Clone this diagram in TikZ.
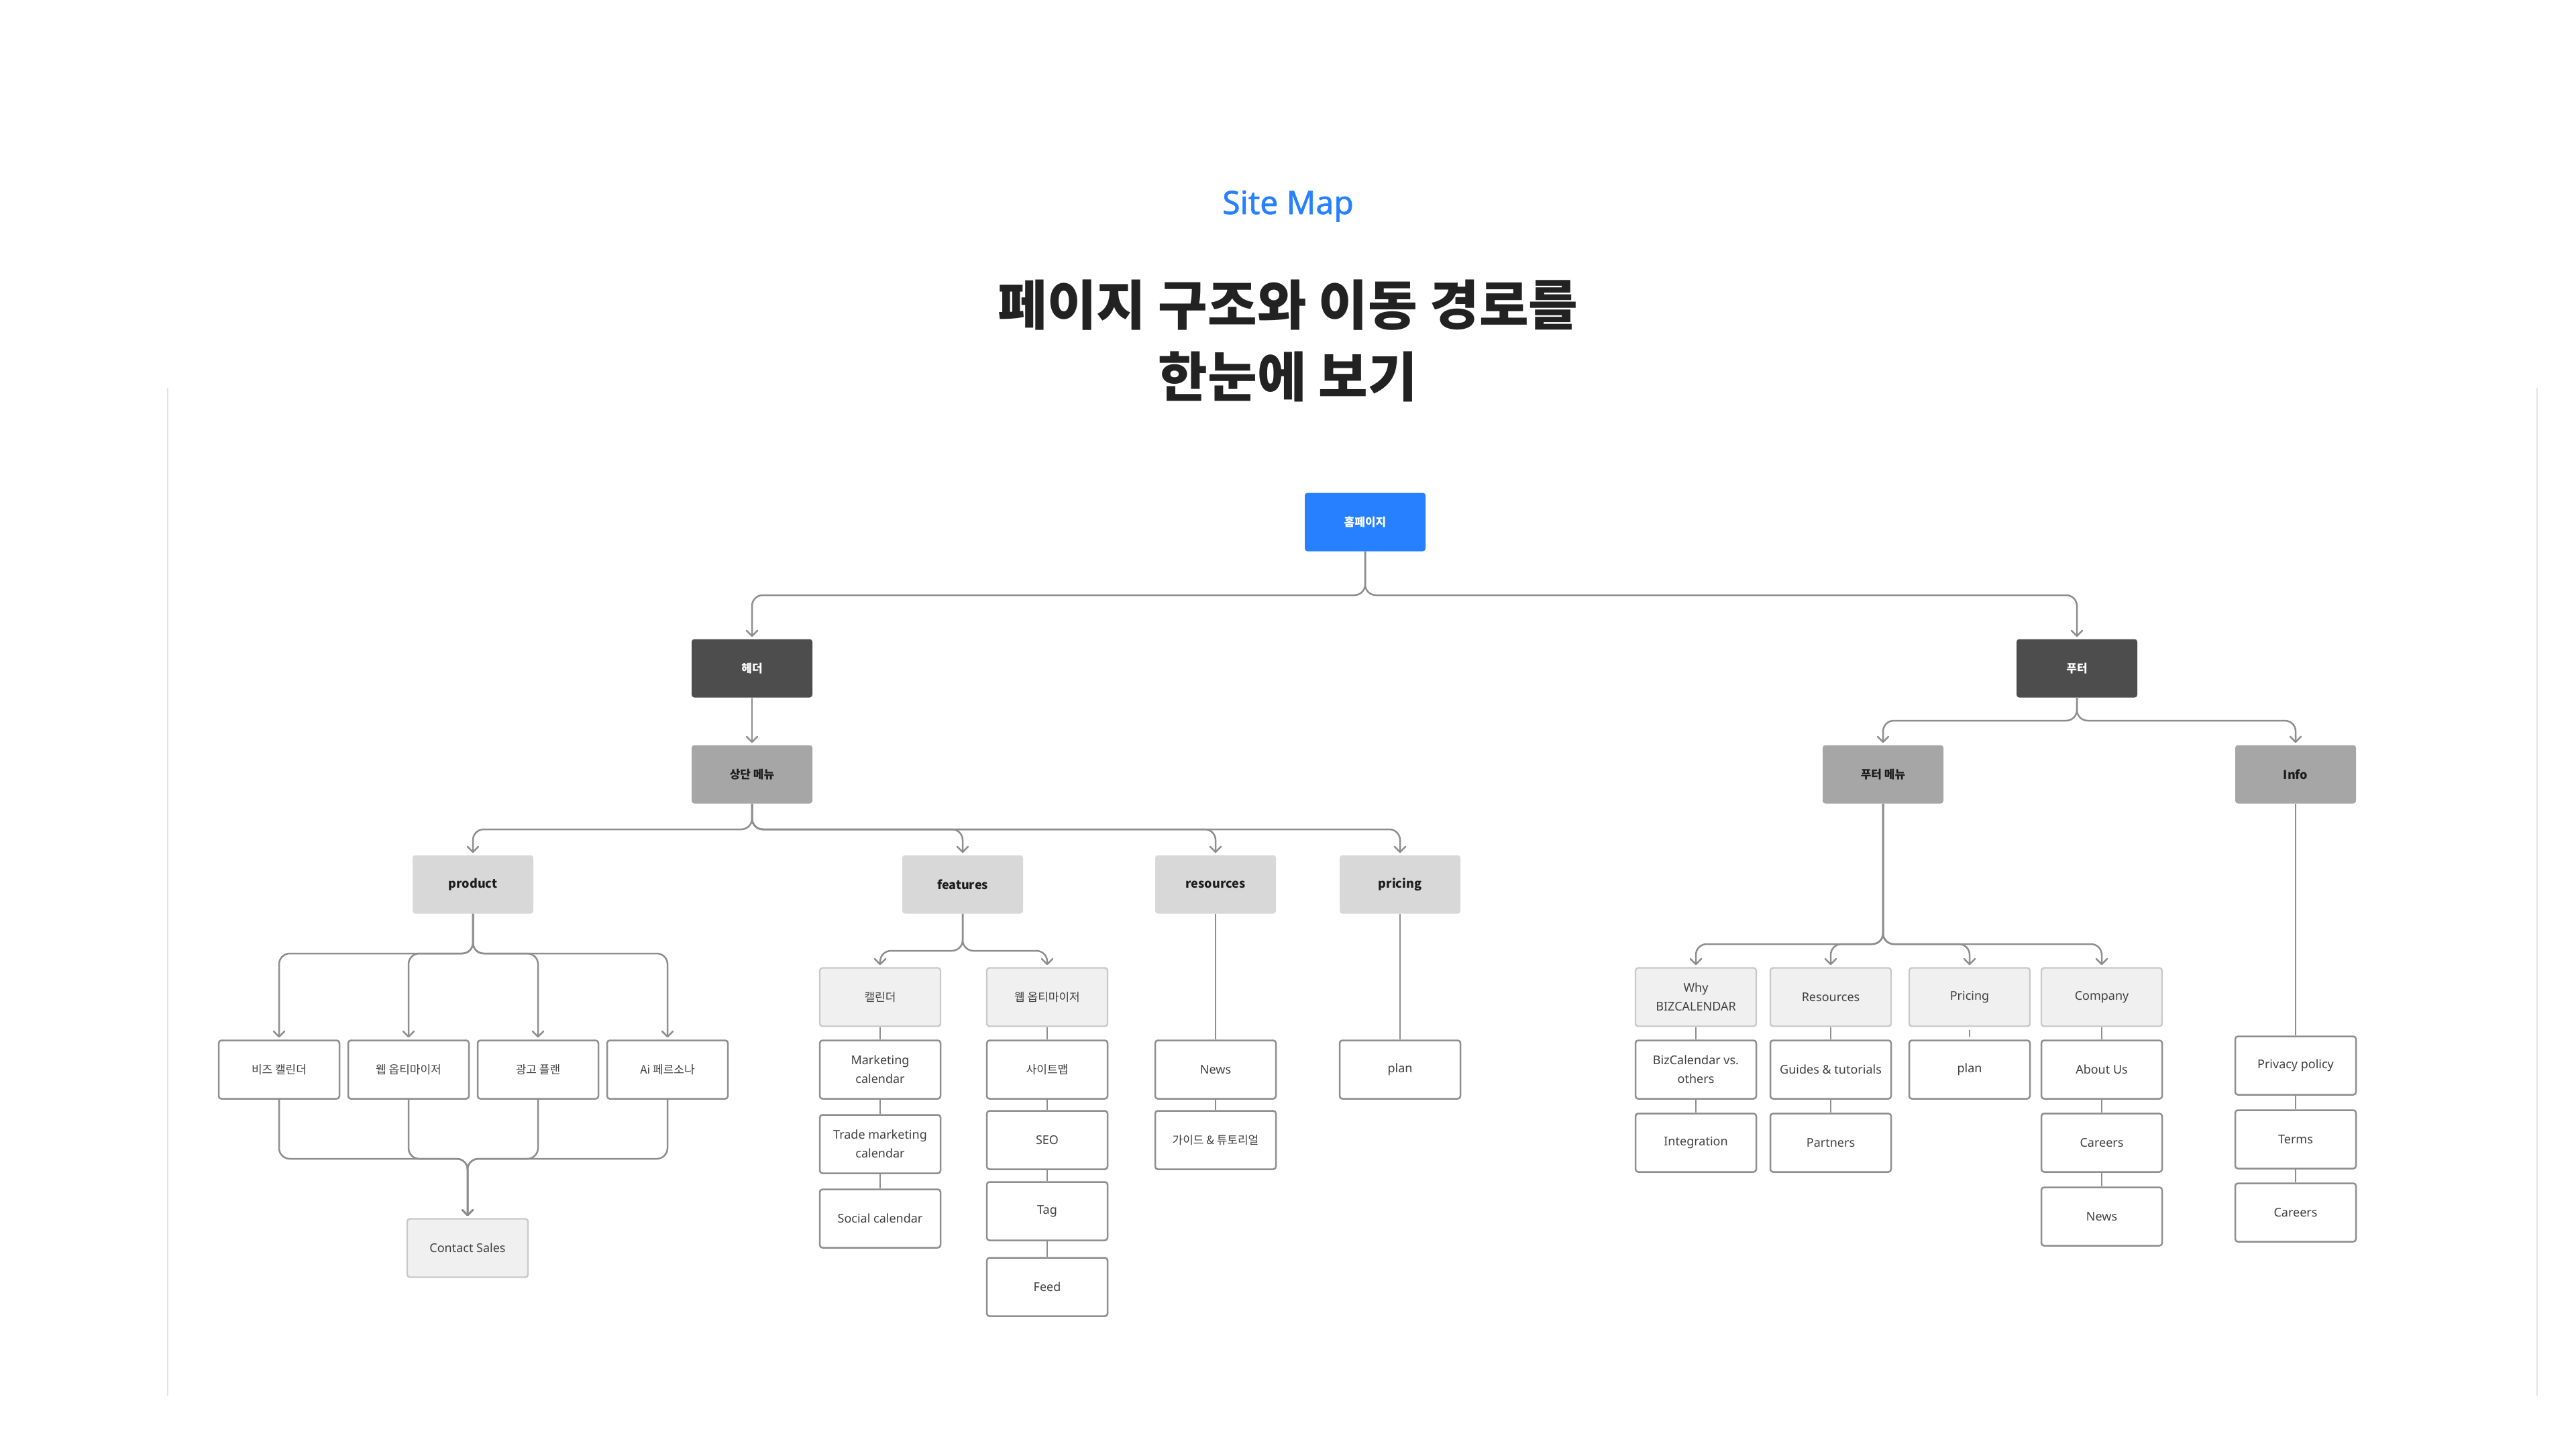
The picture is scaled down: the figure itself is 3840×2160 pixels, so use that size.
\documentclass[tikz,border=0pt]{standalone}
\usepackage{fontspec}
\setmainfont{Noto Sans}
\newfontfamily\kr{Noto Sans CJK KR}
\newfontfamily\sitefont[FakeBold=1.2]{Noto Sans}
\usetikzlibrary{arrows.meta}
\newcommand{\lblfont}{\fontsize{9}{14}\selectfont}
\newcommand{\krs}{\kr\fontsize{8.5}{14}\selectfont}
\definecolor{cBlue}{HTML}{2680FF}
\definecolor{cDark}{HTML}{4D4D4D}
\definecolor{cMid}{HTML}{A6A6A6}
\definecolor{cCat}{HTML}{D9D8D9}
\definecolor{cPale}{HTML}{F0F0F0}
\definecolor{cPaleLine}{HTML}{C9C9C9}
\definecolor{cLeafLine}{HTML}{8F8F8F}
\definecolor{cLine}{HTML}{8E8E8E}
\definecolor{cText}{HTML}{404040}
\definecolor{cBold}{HTML}{1C1C1C}
\definecolor{cTitle}{HTML}{222222}
\definecolor{cFrame}{HTML}{E3E3E3}
\tikzset{
  box/.style={rectangle, rounded corners=2pt, minimum width=90pt, minimum height=43.5pt,
    inner sep=0pt, align=center, font=\lblfont},
  homebox/.style={box, fill=cBlue, text=white, font=\kr\bfseries\lblfont},
  darkbox/.style={box, fill=cDark, text=white, font=\kr\bfseries\lblfont},
  midbox/.style={box, fill=cMid, text=cBold, font=\kr\bfseries\lblfont},
  catbox/.style={box, fill=cCat, text=cBold, font=\kr\bfseries\lblfont},
  palebox/.style={box, fill=cPale, draw=cPaleLine, line width=1.2pt, text=cText},
  leafbox/.style={box, fill=white, draw=cLeafLine, line width=1.25pt, text=cText},
  conn/.style={draw=cLine, line width=1.25pt, rounded corners=8pt},
  arr/.style={-{Straight Barb[length=4pt,width=8pt,round]}, shorten >=1.5pt},
  frameline/.style={draw=cFrame, line width=1pt}
}
\begin{document}
\begin{tikzpicture}[x=0.5pt,y=-0.5pt]
\fill[white] (0,0) rectangle (3840,2160);
\useasboundingbox (0,0) rectangle (3840,2160);

% frame edges
\coordinate (fl1) at (250,578);
\coordinate (fl2) at (250,2080);
\coordinate (fr1) at (3782,578);
\coordinate (fr2) at (3782,2080);
\draw[frameline] (fl1) -- (fl2);
\draw[frameline] (fr1) -- (fr2);

% titles
\node[anchor=base, text=cBlue, font=\sitefont\fontsize{24}{28}\selectfont] (sitemaptitle) at (1920,319) {Site Map};
\node[anchor=base, text=cTitle, font=\kr\bfseries\fontsize{40}{48}\selectfont] (title1) at (1920,484) {페이지 구조와 이동 경로를};
\node[anchor=base, text=cTitle, font=\kr\bfseries\fontsize{40}{48}\selectfont] (title2) at (1920,591) {한눈에 보기};

% top levels
\node[homebox] (home) at (2035,778) {\krs 홈페이지};
\node[darkbox] (header) at (1121,996) {\krs 헤더};
\node[darkbox] (footer) at (3096,996) {\krs 푸터};
\node[midbox] (topmenu) at (1121,1154) {\krs 상단 메뉴};
\node[midbox] (footmenu) at (2807,1154) {\krs 푸터 메뉴};
\node[midbox] (info) at (3422,1154) {Info};

% header categories
\node[catbox] (product) at (705,1318) {product};
\node[catbox] (features) at (1435,1318) {features};
\node[catbox] (resources) at (1812,1318) {resources};
\node[catbox] (pricing) at (2087,1318) {pricing};

% product
\node[leafbox] (biz) at (416,1594) {\krs 비즈 캘린더};
\node[leafbox] (webopt) at (609,1594) {\krs 웹 옵티마이저};
\node[leafbox] (ad) at (802,1594) {\krs 광고 플랜};
\node[leafbox] (ai) at (995,1594) {\krs Ai 페르소나};
\node[palebox] (cs) at (697,1860) {Contact Sales};

% features
\node[palebox] (cal) at (1312,1486) {\krs 캘린더};
\node[palebox] (webopt2) at (1561,1486) {\krs 웹 옵티마이저};
\node[leafbox] (mkt) at (1312,1594) {Marketing\\calendar};
\node[leafbox] (trade) at (1312,1705) {Trade marketing\\calendar};
\node[leafbox] (social) at (1312,1816) {Social calendar};
\node[leafbox] (sitemap) at (1561,1594) {\krs 사이트맵};
\node[leafbox] (seo) at (1561,1699) {SEO};
\node[leafbox] (tag) at (1561,1805) {Tag};
\node[leafbox] (feed) at (1561,1918) {Feed};

% resources / pricing
\node[leafbox] (news) at (1812,1594) {News};
\node[leafbox] (guide) at (1812,1699) {\krs 가이드 \& 튜토리얼};
\node[leafbox] (plan) at (2087,1594) {plan};

% footer menu
\node[palebox] (why) at (2528,1486) {Why\\BIZCALENDAR};
\node[palebox] (fres) at (2729,1486) {Resources};
\node[palebox] (fpricing) at (2936,1486) {Pricing};
\node[palebox] (company) at (3133,1486) {Company};
\node[leafbox] (bizvs) at (2528,1594) {BizCalendar vs.\\others};
\node[leafbox] (integ) at (2528,1703) {Integration};
\node[leafbox] (guides) at (2729,1594) {Guides \& tutorials};
\node[leafbox] (partners) at (2729,1703) {Partners};
\node[leafbox] (fplan) at (2936,1594) {plan};
\node[leafbox] (about) at (3133,1594) {About Us};
\node[leafbox] (careers) at (3133,1703) {Careers};
\node[leafbox] (fnews) at (3133,1813) {News};

% info
\node[leafbox] (privacy) at (3422,1588) {Privacy policy};
\node[leafbox] (terms) at (3422,1698) {Terms};
\node[leafbox] (icareers) at (3422,1807) {Careers};

% bus junctions
\coordinate (bhome) at (2035,887);
\coordinate (btop) at (1121,1236);
\coordinate (bprod) at (705,1421);
\coordinate (bprodlow) at (697,1727);
\coordinate (bfeat) at (1435,1417);
\coordinate (bfoot) at (3096,1074);
\coordinate (bfm) at (2807,1407);

% connectors
\draw[conn,arr] (home.south) -- (bhome) -| (header.north);
\draw[conn,arr] (home.south) -- (bhome) -| (footer.north);
\draw[conn,arr] (header.south) -- (topmenu.north);
\draw[conn,arr] (footer.south) -- (bfoot) -| (footmenu.north);
\draw[conn,arr] (footer.south) -- (bfoot) -| (info.north);

\foreach \c in {product,features,resources,pricing}
  \draw[conn,arr] (topmenu.south) -- (btop) -| (\c.north);

\foreach \c in {biz,webopt,ad,ai}
  \draw[conn,arr] (product.south) -- (bprod) -| (\c.north);
\foreach \c in {biz,webopt,ad,ai}
  \draw[conn,arr] (\c.south) |- (bprodlow) -- (cs.north);

\foreach \c in {cal,webopt2}
  \draw[conn,arr] (features.south) -- (bfeat) -| (\c.north);
\draw[conn] (cal.south) -- (mkt.north);
\draw[conn] (mkt.south) -- (trade.north);
\draw[conn] (trade.south) -- (social.north);
\draw[conn] (webopt2.south) -- (sitemap.north);
\draw[conn] (sitemap.south) -- (seo.north);
\draw[conn] (seo.south) -- (tag.north);
\draw[conn] (tag.south) -- (feed.north);

\draw[conn] (resources.south) -- (news.north);
\draw[conn] (news.south) -- (guide.north);
\draw[conn] (pricing.south) -- (plan.north);

\foreach \c in {why,fres,fpricing,company}
  \draw[conn,arr] (footmenu.south) -- (bfm) -| (\c.north);
\draw[conn] (why.south) -- (bizvs.north);
\draw[conn] (bizvs.south) -- (integ.north);
\draw[conn] (fres.south) -- (guides.north);
\draw[conn] (guides.south) -- (partners.north);
\draw[conn, shorten <=2pt, shorten >=2pt] (fpricing.south) -- (fplan.north);
\draw[conn] (company.south) -- (about.north);
\draw[conn] (about.south) -- (careers.north);
\draw[conn] (careers.south) -- (fnews.north);

\draw[conn] (info.south) -- (privacy.north);
\draw[conn] (privacy.south) -- (terms.north);
\draw[conn] (terms.south) -- (icareers.north);
\end{tikzpicture}
\end{document}
